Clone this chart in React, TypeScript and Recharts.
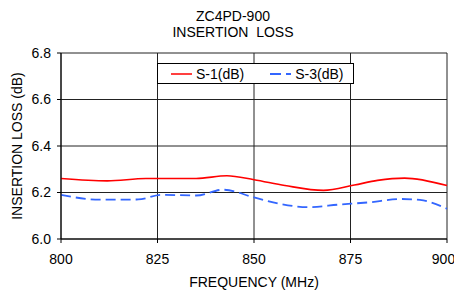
import React from "react";
import { LineChart, Line, XAxis, YAxis, CartesianGrid, Label } from "recharts";

const s1Freq = [800, 812, 822, 835, 843, 850, 858, 868, 876, 882, 889, 900];
const s1Loss = [6.26, 6.25, 6.26, 6.26, 6.272, 6.255, 6.23, 6.209, 6.232, 6.252, 6.262, 6.23];
const s3Freq = [800, 810, 820, 826, 835, 842, 850, 857, 864, 872, 880, 888, 893, 900];
const s3Loss = [6.19, 6.169, 6.17, 6.19, 6.187, 6.212, 6.179, 6.15, 6.137, 6.148, 6.158, 6.172, 6.168, 6.13];
const xTicks = [800, 825, 850, 875, 900];
const yTicks = [6.0, 6.2, 6.4, 6.6, 6.8];
const titleLines = ["ZC4PD-900", "INSERTION  LOSS"];
const seriesNames = ["S-1(dB)", "S-3(dB)"];

const s1Data = s1Freq.map((f, i) => ({ f, v: s1Loss[i] }));
const s3Data = s3Freq.map((f, i) => ({ f, v: s3Loss[i] }));

const FONT = "'Liberation Sans', Arial, sans-serif";
const FS = 14;

const LegendBox = () => (
  <div
    style={{
      position: "absolute",
      left: 157,
      top: 63,
      width: 195,
      height: 19,
      border: "1px solid #000",
      background: "#fff",
      display: "flex",
      alignItems: "center",
      fontFamily: FONT,
      fontSize: FS,
      color: "#000",
      zIndex: 2,
    }}
  >
    <svg width={21} height={4} style={{ marginLeft: 13 }}>
      <line x1={0} y1={2} x2={21} y2={2} stroke="#ff0000" strokeWidth={1.5} />
    </svg>
    <span style={{ marginLeft: 4 }}>{seriesNames[0]}</span>
    <svg width={21} height={4} style={{ marginLeft: 26 }}>
      <line x1={0} y1={2} x2={21} y2={2} stroke="#3366ff" strokeWidth={2} strokeDasharray="11 5" />
    </svg>
    <span style={{ marginLeft: 4 }}>{seriesNames[1]}</span>
  </div>
);

export default function App() {
  return (
    <div style={{ position: "absolute", left: 0, top: 0, width: 454, height: 291, background: "#fff" }}>
      <div
        style={{
          position: "absolute",
          left: 133,
          top: 9,
          width: 200,
          textAlign: "center",
          fontFamily: FONT,
          fontSize: FS,
          lineHeight: "15.5px",
          color: "#000",
          whiteSpace: "pre",
          zIndex: 2,
        }}
      >
        {titleLines[0]}
        {"\n"}
        {titleLines[1]}
      </div>
      <LineChart
        width={454}
        height={291}
        margin={{ top: 53, right: 7, bottom: 4, left: 0 }}
        style={{ position: "absolute", left: 0, top: 0 }}
      >
        <CartesianGrid stroke="#222" strokeWidth={1} />
        <XAxis
          dataKey="f"
          type="number"
          domain={[800, 900]}
          ticks={xTicks}
          allowDuplicatedCategory={false}
          height={48}
          tickSize={4}
          tickMargin={11}
          stroke="#000"
          tick={{ fill: "#000", fontSize: FS, fontFamily: FONT }}
          tickLine={{ stroke: "#000" }}
        >
          <Label value="FREQUENCY (MHz)" position="insideBottom" offset={0} style={{ fill: "#000", fontSize: FS, fontFamily: FONT }} />
        </XAxis>
        <YAxis
          type="number"
          domain={[6.0, 6.8]}
          ticks={yTicks}
          width={61}
          tickSize={4}
          tickMargin={6}
          stroke="#000"
          tickFormatter={(v: number) => v.toFixed(1)}
          tick={{ fill: "#000", fontSize: FS, fontFamily: FONT }}
          tickLine={{ stroke: "#000" }}
        >
          <Label
            content={() => (
              <text
                x={17}
                y={146}
                transform="rotate(-90 17 146)"
                textAnchor="middle"
                dominantBaseline="central"
                fill="#000"
                fontSize={FS}
                fontFamily={FONT}
              >
                INSERTION LOSS (dB)
              </text>
            )}
          />
        </YAxis>
        <Line
          data={s1Data}
          dataKey="v"
          type="monotone"
          stroke="#ff0000"
          strokeWidth={1.6}
          dot={false}
          isAnimationActive={false}
          name={seriesNames[0]}
        />
        <Line
          data={s3Data}
          dataKey="v"
          type="monotone"
          stroke="#3366ff"
          strokeWidth={1.8}
          strokeDasharray="10 5"
          dot={false}
          isAnimationActive={false}
          name={seriesNames[1]}
        />
      </LineChart>
      <LegendBox />
    </div>
  );
}
